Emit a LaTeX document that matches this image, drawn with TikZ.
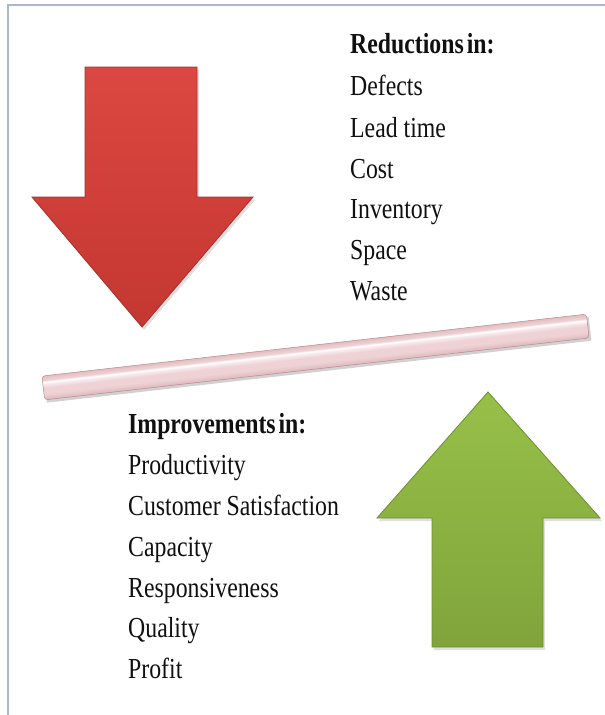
\documentclass[tikz,border=0pt]{standalone}
\usepackage{fontspec}
\setmainfont{Liberation Serif}[FakeStretch=0.82]
\usetikzlibrary{shadows}
\definecolor{frameblue}{HTML}{A9B9CD}
\definecolor{redtop}{HTML}{DC4741}
\definecolor{redbot}{HTML}{C43731}
\definecolor{redline}{HTML}{A8302A}
\definecolor{greentop}{HTML}{97C049}
\definecolor{greenbot}{HTML}{80A43B}
\definecolor{greenline}{HTML}{6E8F31}
\definecolor{bartop}{HTML}{F7EAEC}
\definecolor{barmid}{HTML}{EFD2D5}
\definecolor{barbot}{HTML}{B9898E}
\definecolor{txt}{HTML}{101010}
\pgfdeclareverticalshading{barshade}{100bp}{%
  color(0bp)=(barbot); color(38bp)=(barmid); color(50bp)=(barmid);
  color(58bp)=(bartop); color(62bp)=(white); color(66bp)=(barmid); color(100bp)=(barbot)}
\tikzset{
  arrowshape/.style={line width=0.8pt, line join=miter,
    drop shadow={opacity=0.25, shadow xshift=2pt, shadow yshift=-3pt}},
  label/.style={anchor=base west, inner sep=0pt, text=txt,
    font=\fontsize{29}{41}\selectfont},
  head/.style={label, font=\fontsize{29}{41}\selectfont\bfseries},
}
\begin{document}
\begin{tikzpicture}[x=1pt,y=-1pt]
\useasboundingbox (0,0) rectangle (605,715);
\fill[white] (0,0) rectangle (605,715);
% frame
\draw[frameblue, line width=2.2pt] (8,715) -- (8,5) -- (605,5);
% red arrow
\shade[arrowshape, draw=redline, top color=redtop, bottom color=redbot]
  (85,67) -- (197,67) -- (197,197) -- (253,197) -- (142,327) -- (32,197) -- (85,197) -- cycle;
% green arrow
\shade[arrowshape, draw=greenline, top color=greentop, bottom color=greenbot]
  (488,392) -- (600,518) -- (543,518) -- (543,647) -- (432,647) -- (432,518) -- (377,518) -- cycle;
% bar
\begin{scope}[transform canvas={shift={(315.5pt,-357pt)},rotate=6.49}]
  \fill[black, opacity=0.18] (-272pt,-15pt) rectangle (276pt,9pt);
  \shade[shading=barshade, draw=barbot, line width=0.5pt, rounded corners=3pt]
    (-274pt,-12pt) rectangle (274pt,12pt);
\end{scope}
% texts
\node[head] (r0) at (350,53) {Reductions\hspace{-3pt} in:};
\node[label] (r1) at (350,95) {Defects};
\node[label] (r2) at (350,137) {Lead time};
\node[label] (r3) at (350,178) {Cost};
\node[label] (r4) at (350,218) {Inventory};
\node[label] (r5) at (350,259) {Space};
\node[label] (r6) at (350,300) {Waste};
\node[head] (i0) at (128,433) {Improvements\hspace{-3pt} in:};
\node[label] (i1) at (128,474) {Productivity};
\node[label] (i2) at (128,515) {Customer Satisfaction};
\node[label] (i3) at (128,556) {Capacity};
\node[label] (i4) at (128,597) {Responsiveness};
\node[label] (i5) at (128,637) {Quality};
\node[label] (i6) at (128,678) {Profit};
\end{tikzpicture}
\end{document}
